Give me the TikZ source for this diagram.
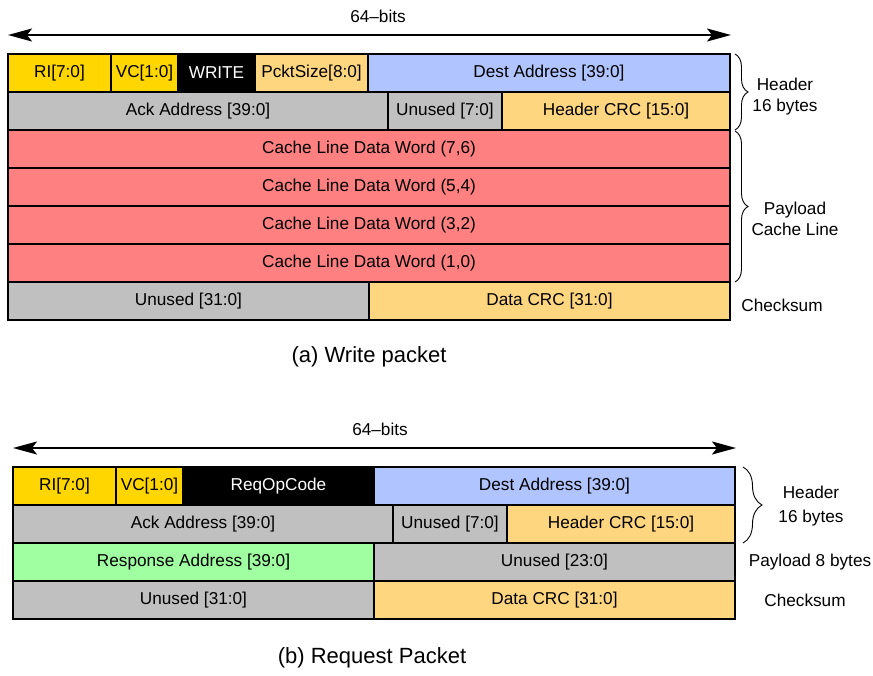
\documentclass[tikz,border=0pt]{standalone}
\usepackage{fontspec}
\setmainfont{Liberation Sans}
\usetikzlibrary{arrows.meta,decorations.pathreplacing}

\definecolor{riyel}{RGB}{255,214,0}
\definecolor{lorange}{RGB}{255,214,128}
\definecolor{lblue}{RGB}{176,196,255}
\definecolor{lgray}{RGB}{192,192,192}
\definecolor{lred}{RGB}{255,128,128}
\definecolor{lgreen}{RGB}{160,255,160}

\tikzset{
  cell/.style={draw=black, line width=2pt, inner sep=0pt, outer sep=0pt,
    minimum height=38pt, font=\fontsize{17.2}{19}\selectfont},
  blackcell/.style={cell, fill=black, text=white},
  side/.style={font=\fontsize{17.2}{21}\selectfont, align=center, inner sep=0pt},
  caption/.style={font=\fontsize{22}{25}\selectfont, inner sep=0pt},
  width/.style={line width=2pt, {Stealth[length=24pt,width=13pt,inset=5pt]}-{Stealth[length=24pt,width=13pt,inset=5pt]}},
  curly/.style={line width=0.9pt, decorate}
}

\begin{document}
\begin{tikzpicture}[x=1pt, y=-1pt]
\useasboundingbox (0,0) rectangle (873,675);

% ---------------- (a) write packet ----------------
\coordinate (aL) at (8,35);
\coordinate (aR) at (731,35);
\draw[width] (aL) -- (aR);
\node[side] (abits) at (378,16) {64–bits};

% header row 1
\node[cell, fill=riyel,   minimum width=103pt] (ari)   at (59.5,73)  {RI[7:0]};
\node[cell, fill=riyel,   minimum width=67pt]  (avc)   at (144.5,73) {VC[1:0]};
\node[blackcell,          minimum width=77pt]  (awr)   at (216.5,73) {WRITE};
\node[cell, fill=lorange, minimum width=113pt] (asize) at (311.5,73) {PcktSize[8:0]};
\node[cell, fill=lblue,   minimum width=362pt] (adest) at (549,73)   {Dest Address [39:0]};
% header row 2
\node[cell, fill=lgray,   minimum width=380pt] (aack)  at (198,111)  {Ack Address [39:0]};
\node[cell, fill=lgray,   minimum width=114pt] (aun)   at (445,111)  {Unused [7:0]};
\node[cell, fill=lorange, minimum width=228pt] (ahcrc) at (616,111)  {Header CRC [15:0]};
% cache line payload
\node[cell, fill=lred, minimum width=722pt] (aw76) at (369,149) {Cache Line Data Word (7,6)};
\node[cell, fill=lred, minimum width=722pt] (aw54) at (369,187) {Cache Line Data Word (5,4)};
\node[cell, fill=lred, minimum width=722pt] (aw32) at (369,225) {Cache Line Data Word (3,2)};
\node[cell, fill=lred, minimum width=722pt] (aw10) at (369,263) {Cache Line Data Word (1,0)};
% checksum row
\node[cell, fill=lgray,   minimum width=361pt] (aun31) at (188.5,301) {Unused [31:0]};
\node[cell, fill=lorange, minimum width=361pt] (adcrc) at (549.5,301) {Data CRC [31:0]};

% braces and side labels
\draw[curly, decoration={brace, amplitude=13pt}] (735,54) -- (735,130);
\draw[curly, decoration={brace, amplitude=13pt}] (735,131) -- (735,282);
\node[side] (ahdr) at (785,97) {Header\\16 bytes};
\node[side] (apay) at (795,219) {Payload\\Cache Line};
\node[side] (acks) at (782,305) {Checksum};

\node[caption] (acap) at (369,357) {(a) Write packet};

% ---------------- (b) request packet ----------------
\coordinate (bL) at (13,448);
\coordinate (bR) at (736,448);
\draw[width] (bL) -- (bR);
\node[side] (bbits) at (380,429) {64–bits};

% header row 1
\node[cell, fill=riyel, minimum width=103pt] (bri)   at (64.5,486)  {RI[7:0]};
\node[cell, fill=riyel, minimum width=67pt]  (bvc)   at (149.5,486) {VC[1:0]};
\node[blackcell,        minimum width=191pt] (bop)   at (278.5,486) {ReqOpCode};
\node[cell, fill=lblue, minimum width=361pt] (bdest) at (554.5,486) {Dest Address [39:0]};
% header row 2
\node[cell, fill=lgray,   minimum width=380pt] (back)  at (203,524) {Ack Address [39:0]};
\node[cell, fill=lgray,   minimum width=114pt] (bun)   at (450,524) {Unused [7:0]};
\node[cell, fill=lorange, minimum width=228pt] (bhcrc) at (621,524) {Header CRC [15:0]};
% payload row
\node[cell, fill=lgreen, minimum width=361pt] (bresp) at (193.5,562) {Response Address [39:0]};
\node[cell, fill=lgray,  minimum width=361pt] (bun23) at (554.5,562) {Unused [23:0]};
% checksum row
\node[cell, fill=lgray,   minimum width=361pt] (bun31) at (193.5,600) {Unused [31:0]};
\node[cell, fill=lorange, minimum width=361pt] (bdcrc) at (554.5,600) {Data CRC [31:0]};

% brace and side labels
\draw[curly, decoration={brace, amplitude=19pt}] (743,467) -- (743,543);
\node[side] (bhdr) at (811,506) {Header\\[3pt]16 bytes};
\node[side] (bpay) at (810,562) {Payload 8 bytes};
\node[side] (bcks) at (805,600) {Checksum};

\node[caption] (bcap) at (372,658) {(b) Request Packet};
\end{tikzpicture}
\end{document}
